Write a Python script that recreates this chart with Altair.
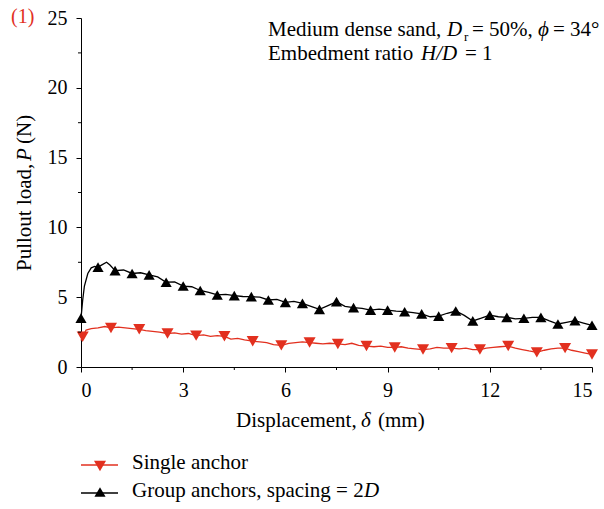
import altair as alt
import pandas as pd

FONT = "Liberation Serif"
RED = "#e2301f"
FS = 21

# ---- data ----
black_x = [0, 0.05, 0.1, 0.2, 0.3, 0.4, 0.5, 0.6, 0.75, 0.85,
           1.0, 1.25, 1.5, 1.75, 2.0, 2.25, 2.5, 2.75, 3.0, 3.25, 3.5, 3.75,
           4.0, 4.25, 4.5, 4.75, 5.0, 5.25, 5.5, 5.75, 6.0, 6.25, 6.5, 6.75,
           7.0, 7.25, 7.5, 7.75, 8.0, 8.25, 8.5, 8.75, 9.0, 9.25, 9.5, 9.75,
           10.0, 10.25, 10.5, 10.75, 11.0, 11.25, 11.5, 11.75, 12.0, 12.25,
           12.5, 12.75, 13.0, 13.25, 13.5, 13.75, 14.0, 14.25, 14.5, 14.75, 15.0]
black_y = [3.5, 4.8, 5.8, 6.7, 7.1, 7.2, 7.15, 7.3, 7.5, 7.3,
           6.9, 6.95, 6.7, 6.75, 6.6, 6.45, 6.07, 6.1, 5.8, 5.75, 5.48, 5.35,
           5.16, 5.2, 5.11, 5.05, 5.04, 5.0, 4.8, 4.85, 4.63, 4.7, 4.56, 4.35,
           4.13, 4.4, 4.68, 4.35, 4.25, 4.2, 4.08, 4.15, 4.08, 4.0, 3.96, 3.9,
           3.8, 3.6, 3.65, 3.85, 4.01, 3.7, 3.3, 3.5, 3.72, 3.6,
           3.56, 3.45, 3.49, 3.55, 3.56, 3.3, 3.08, 3.2, 3.32, 3.15, 2.99]

black_mx = [0, 0.5, 1.0, 1.5, 2.0, 2.5, 3.0, 3.5, 4.0, 4.5, 5.0, 5.5, 6.0, 6.5,
            7.0, 7.5, 8.0, 8.5, 9.0, 9.5, 10.0, 10.5, 11.0, 11.5, 12.0, 12.5,
            13.0, 13.5, 14.0, 14.5, 15.0]
black_my = [3.5, 7.15, 6.9, 6.7, 6.6, 6.07, 5.8, 5.48, 5.16, 5.11, 5.04, 4.8,
            4.63, 4.56, 4.13, 4.68, 4.25, 4.08, 4.08, 3.96, 3.8, 3.65, 4.01,
            3.3, 3.72, 3.56, 3.49, 3.56, 3.08, 3.32, 2.99]

red_x = [0, 0.05, 0.15, 0.3, 0.5, 0.7, 0.88, 1.1, 1.3, 1.5, 1.71, 1.9, 2.1, 2.3,
         2.54, 2.75, 2.95, 3.15, 3.38, 3.6, 3.8, 4.0, 4.21, 4.4, 4.6, 4.8, 5.04,
         5.25, 5.45, 5.65, 5.88, 6.1, 6.3, 6.5, 6.71, 6.9, 7.1, 7.3, 7.54, 7.75,
         7.95, 8.15, 8.38, 8.6, 8.8, 9.0, 9.21, 9.4, 9.6, 9.8, 10.04, 10.25,
         10.45, 10.65, 10.88, 11.1, 11.3, 11.5, 11.71, 11.9, 12.1, 12.3, 12.54,
         12.75, 12.95, 13.15, 13.38, 13.6, 13.8, 14.0, 14.21, 14.4, 14.6, 14.8, 15.0]
red_y = [1.9, 2.2, 2.65, 2.75, 2.8, 2.9, 2.8, 2.85, 2.8, 2.75, 2.7, 2.6, 2.55, 2.5,
         2.4, 2.45, 2.35, 2.4, 2.25, 2.3, 2.2, 2.25, 2.2, 2.0, 2.05, 1.95, 1.85,
         1.8, 1.75, 1.6, 1.55, 1.7, 1.75, 1.8, 1.75, 1.7, 1.65, 1.7, 1.65, 1.6,
         1.7, 1.55, 1.5, 1.45, 1.5, 1.4, 1.4, 1.45, 1.35, 1.3, 1.25, 1.3,
         1.4, 1.35, 1.35, 1.3, 1.35, 1.25, 1.25, 1.35, 1.4, 1.45, 1.5,
         1.35, 1.25, 1.15, 1.05, 1.2, 1.3, 1.35, 1.35, 1.2, 1.1, 1.0, 0.9]

red_mx = [0.05, 0.88, 1.71, 2.54, 3.38, 4.21, 5.04, 5.88, 6.71, 7.54, 8.38,
          9.21, 10.04, 10.88, 11.71, 12.54, 13.38, 14.21, 15.0]
red_my = [2.17, 2.8, 2.7, 2.4, 2.25, 2.2, 1.85, 1.55, 1.75, 1.65, 1.5, 1.4,
          1.25, 1.35, 1.25, 1.5, 1.05, 1.35, 0.9]

x_major = [0, 3, 6, 9, 12, 15]
x_minor = [1.5, 4.5, 7.5, 10.5, 13.5]
y_major = [0, 5, 10, 15, 20, 25]
y_minor = [2.5, 7.5, 12.5, 17.5, 22.5]

legend_labels = ["Single anchor", "Group anchors, spacing = 2"]

# ---- chart ----
L, T = 81, 18  # plot origin in page pixels
W, H = 511, 349

xs = alt.Scale(domain=[0, 15], nice=False)
ys = alt.Scale(domain=[0, 25], nice=False)

x_axis = alt.Axis(values=x_major, title=None, grid=False, format="d",
                  labelFont=FONT, labelFontSize=20, labelColor="black",
                  tickSize=5, labelPadding=8)
y_axis = alt.Axis(values=y_major, title=None, grid=False, format="d",
                  labelFont=FONT, labelFontSize=20, labelColor="black",
                  tickSize=5, labelPadding=9)

df_b = pd.DataFrame({"x": black_x, "y": black_y})
df_bm = pd.DataFrame({"x": black_mx, "y": black_my})
df_r = pd.DataFrame({"x": red_x, "y": red_y})
df_rm = pd.DataFrame({"x": red_mx, "y": red_my})

black_line = alt.Chart(df_b).mark_line(color="black", strokeWidth=1.3).encode(
    x=alt.X("x:Q", scale=xs, axis=x_axis),
    y=alt.Y("y:Q", scale=ys, axis=y_axis),
)
black_pts = alt.Chart(df_bm).mark_point(shape="triangle-up", filled=True, color="black",
                                        size=125, opacity=1).encode(
    x=alt.X("x:Q", scale=xs), y=alt.Y("y:Q", scale=ys))
red_line = alt.Chart(df_r).mark_line(color=RED, strokeWidth=1.3).encode(
    x=alt.X("x:Q", scale=xs), y=alt.Y("y:Q", scale=ys))
red_pts = alt.Chart(df_rm).mark_point(shape="triangle-down", filled=True, color=RED,
                                      size=145, opacity=1).encode(
    x=alt.X("x:Q", scale=xs), y=alt.Y("y:Q", scale=ys))

# minor ticks, drawn through the scales
minor_x = alt.Chart(pd.DataFrame({"v": x_minor})).mark_rule(color="black", strokeWidth=1).encode(
    x=alt.X("v:Q", scale=xs), y=alt.value(H), y2=alt.value(H + 3))
minor_y = alt.Chart(pd.DataFrame({"v": y_minor})).mark_rule(color="black", strokeWidth=1).encode(
    y=alt.Y("v:Q", scale=ys), x=alt.value(0), x2=alt.value(-3))


def txt(s, x, y, size=FS, style="normal", color="black", angle=0):
    return alt.Chart(alt.Data(values=[{"t": s}])).mark_text(
        font=FONT, fontSize=size, fontStyle=style, color=color, align="left",
        baseline="alphabetic", angle=angle
    ).encode(x=alt.value(x - L), y=alt.value(y - T), text="t:N")


texts = [
    txt("(1)", 11, 23, size=20, color=RED),
    # annotation
    txt("Medium dense sand,", 268, 36),
    txt("D", 447, 36, style="italic"),
    txt("r", 464, 41, size=13),
    txt("= 50%,", 472, 36),
    txt("\u03d5", 538, 36, style="italic"),
    txt("= 34\u00b0", 553, 36),
    txt("Embedment ratio", 268, 60),
    txt("H/D", 421, 60, style="italic"),
    txt("= 1", 465, 60),
    # x title
    txt("Displacement,", 236, 427),
    txt("\u03b4", 361, 427, style="italic"),
    txt("(mm)", 378, 427),
    # y title (rotated)
    txt("Pullout load,", 31, 271, angle=270),
    txt("P", 31, 161, style="italic", angle=270),
    txt("(N)", 31, 144, angle=270),
    # legend texts
    txt(legend_labels[0], 132, 469),
    txt(legend_labels[1], 132, 497),
    txt("D", 364, 497, style="italic"),
]

empty = alt.Data(values=[{}])
leg = [
    alt.Chart(empty).mark_rule(color=RED, strokeWidth=1.3).encode(
        x=alt.value(81 - L), x2=alt.value(118 - L), y=alt.value(465 - T)),
    alt.Chart(empty).mark_point(shape="triangle-down", filled=True, color=RED, size=145, opacity=1).encode(
        x=alt.value(100 - L), y=alt.value(466 - T)),
    alt.Chart(empty).mark_rule(color="black", strokeWidth=1.3).encode(
        x=alt.value(81 - L), x2=alt.value(118 - L), y=alt.value(493 - T)),
    alt.Chart(empty).mark_point(shape="triangle-up", filled=True, color="black", size=125, opacity=1).encode(
        x=alt.value(100 - L), y=alt.value(492 - T)),
]

chart = alt.layer(black_line, red_line, black_pts, red_pts, minor_x, minor_y,
                  *texts, *leg).properties(
    width=W, height=H,
    autosize=alt.AutoSizeParams(type="none"),
    padding={"left": L, "top": T, "right": 12, "bottom": 142},
    background="white",
).configure(font=FONT).configure_view(strokeWidth=0).configure_axis(
    domainColor="black", tickColor="black", labelColor="black",
    labelFont=FONT, labelFontSize=20, domainWidth=1, tickWidth=1,
)

chart.save("out.html", embed_options={"renderer": "svg", "actions": False})
